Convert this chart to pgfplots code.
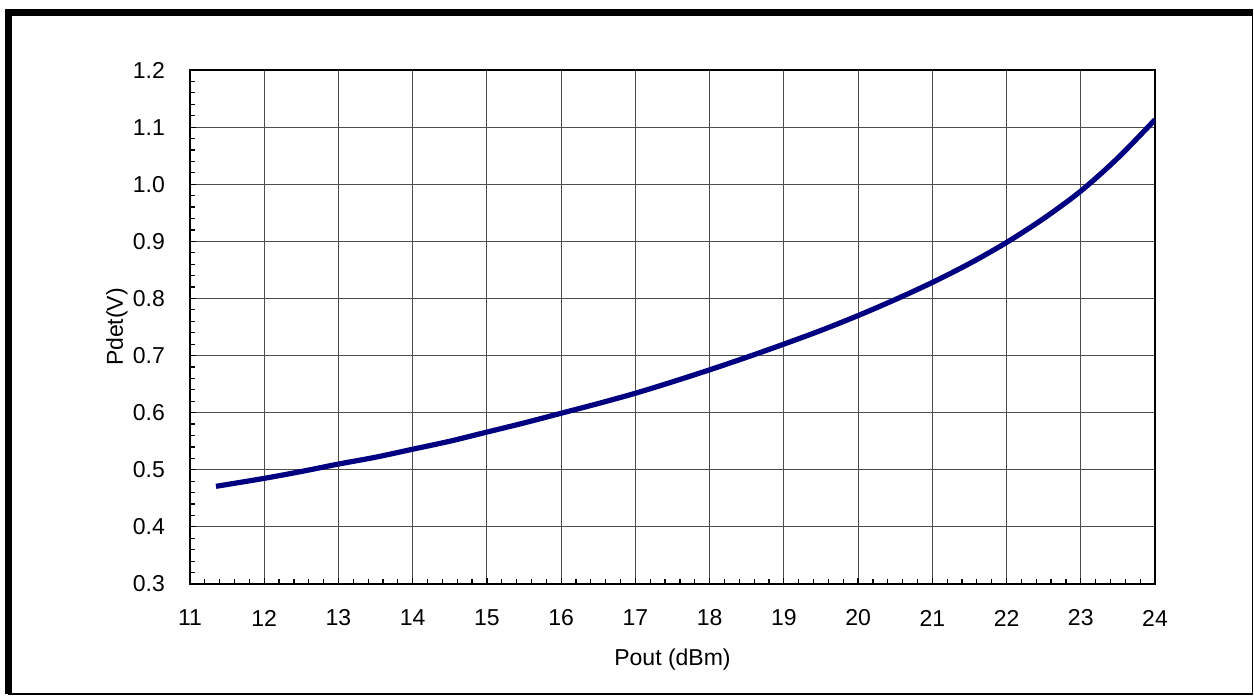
\documentclass[border=0pt]{standalone}
\usepackage{pgfplots}
\pgfplotsset{compat=1.18}
\usepackage{fontspec}
\setmainfont{Liberation Sans}
\definecolor{curve}{RGB}{0,0,128}
\begin{document}
\begin{tikzpicture}[x=0.5pt,y=0.5pt]
\path[use as bounding box] (-190,-112) rectangle (1064,584);
\draw[line width=3.5pt] (-181.5,-110) -- (-181.5,571) -- (1062.5,571);
\draw[line width=0.8pt] (1062.5,571) -- (1062.5,-110) -- (-181.5,-110);
\begin{axis}[
  at={(0,0)}, anchor=south west,
  scale only axis,
  width=482.5pt, height=257pt,
  xmin=11, xmax=24, ymin=0.3, ymax=1.2,
  xtick={11,...,24},
  ytick={0.3,0.4,...,1.2},
  minor x tick num=4,
  minor y tick num=4,
  tick pos=left,
  tick align=inside,
  major tick length=3pt,
  minor tick length=2.5pt,
  grid=major,
  major grid style={line width=0.5pt, black!70},
  axis line style={line width=1.4pt},
  tick style={black, line width=0.6pt},
  every tick label/.style={font=\fontsize{11.5}{13}\selectfont},
  /pgf/number format/assume math mode=true,
  y tick label style={/pgf/number format/fixed, /pgf/number format/fixed zerofill, /pgf/number format/precision=1, anchor=east, xshift=-9pt},
  x tick label style={anchor=center, yshift=-17pt},
  xlabel={Pout (dBm)},
  ylabel={Pdet(V)},
  label style={font=\fontsize{11.5}{13}\selectfont},
  xlabel style={at={(axis description cs:0.5,0)}, anchor=center, yshift=-38pt},
  ylabel style={at={(axis description cs:0,0.5)}, anchor=center, rotate=0, yshift=36.5pt},
]
\addplot[curve, line width=2.6pt, smooth] coordinates {
  (11.35,0.471) (12,0.485) (12.5,0.497) (13,0.510) (13.5,0.522) (14,0.536)
  (14.5,0.550) (15,0.566) (15.5,0.582) (16,0.599) (16.5,0.616) (17,0.634)
  (17.5,0.654) (18,0.675) (18.5,0.697) (19,0.720) (19.5,0.744) (20,0.770)
  (20.5,0.798) (21,0.828) (21.5,0.861) (22,0.898) (22.5,0.940) (23,0.988)
  (23.5,1.046) (24,1.113)
};
\end{axis}
\end{tikzpicture}
\end{document}
